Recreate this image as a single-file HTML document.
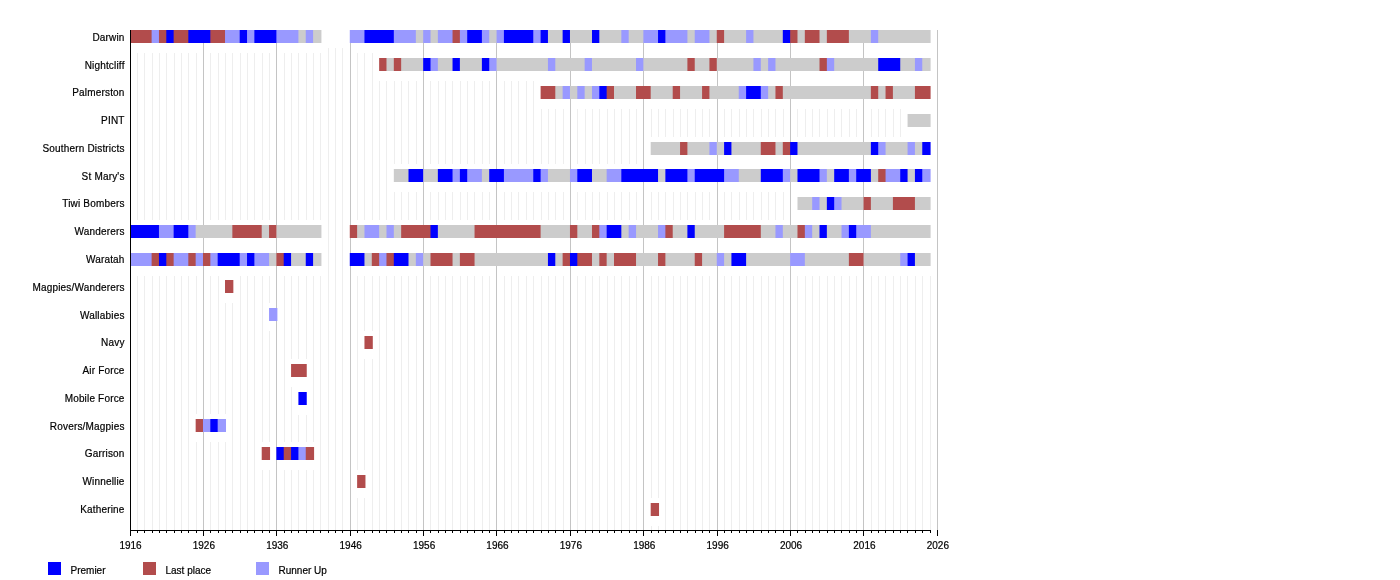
<!DOCTYPE html>
<html><head><meta charset="utf-8"><title>Timeline</title>
<style>
html,body{margin:0;padding:0;background:#fff;width:1400px;height:580px;overflow:hidden}
svg{display:block}
text{font-family:"Liberation Sans",sans-serif;font-size:10px;fill:#000;stroke:#000;stroke-width:0.2px;letter-spacing:0.18px}
text.n{letter-spacing:0}
.t{will-change:transform}
</style></head><body>
<svg width="1400" height="580" viewBox="0 0 1400 580">
<g shape-rendering="crispEdges">
<rect x="137" y="48" width="1" height="482" fill="#eeeeee"/>
<rect x="144" y="48" width="1" height="482" fill="#eeeeee"/>
<rect x="152" y="48" width="1" height="482" fill="#eeeeee"/>
<rect x="159" y="48" width="1" height="482" fill="#eeeeee"/>
<rect x="166" y="48" width="1" height="482" fill="#eeeeee"/>
<rect x="174" y="48" width="1" height="482" fill="#eeeeee"/>
<rect x="181" y="48" width="1" height="482" fill="#eeeeee"/>
<rect x="188" y="48" width="1" height="482" fill="#eeeeee"/>
<rect x="196" y="48" width="1" height="482" fill="#eeeeee"/>
<rect x="210" y="48" width="1" height="482" fill="#eeeeee"/>
<rect x="218" y="48" width="1" height="482" fill="#eeeeee"/>
<rect x="225" y="48" width="1" height="482" fill="#eeeeee"/>
<rect x="232" y="48" width="1" height="482" fill="#eeeeee"/>
<rect x="240" y="48" width="1" height="482" fill="#eeeeee"/>
<rect x="247" y="48" width="1" height="482" fill="#eeeeee"/>
<rect x="254" y="48" width="1" height="482" fill="#eeeeee"/>
<rect x="262" y="48" width="1" height="482" fill="#eeeeee"/>
<rect x="269" y="48" width="1" height="482" fill="#eeeeee"/>
<rect x="284" y="48" width="1" height="482" fill="#eeeeee"/>
<rect x="291" y="48" width="1" height="482" fill="#eeeeee"/>
<rect x="298" y="48" width="1" height="482" fill="#eeeeee"/>
<rect x="306" y="48" width="1" height="482" fill="#eeeeee"/>
<rect x="313" y="48" width="1" height="482" fill="#eeeeee"/>
<rect x="320" y="48" width="1" height="482" fill="#eeeeee"/>
<rect x="328" y="48" width="1" height="482" fill="#eeeeee"/>
<rect x="335" y="48" width="1" height="482" fill="#eeeeee"/>
<rect x="342" y="48" width="1" height="482" fill="#eeeeee"/>
<rect x="357" y="48" width="1" height="482" fill="#eeeeee"/>
<rect x="364" y="48" width="1" height="482" fill="#eeeeee"/>
<rect x="372" y="48" width="1" height="482" fill="#eeeeee"/>
<rect x="379" y="48" width="1" height="482" fill="#eeeeee"/>
<rect x="386" y="48" width="1" height="482" fill="#eeeeee"/>
<rect x="394" y="48" width="1" height="482" fill="#eeeeee"/>
<rect x="401" y="48" width="1" height="482" fill="#eeeeee"/>
<rect x="408" y="48" width="1" height="482" fill="#eeeeee"/>
<rect x="416" y="48" width="1" height="482" fill="#eeeeee"/>
<rect x="430" y="48" width="1" height="482" fill="#eeeeee"/>
<rect x="438" y="48" width="1" height="482" fill="#eeeeee"/>
<rect x="445" y="48" width="1" height="482" fill="#eeeeee"/>
<rect x="452" y="48" width="1" height="482" fill="#eeeeee"/>
<rect x="460" y="48" width="1" height="482" fill="#eeeeee"/>
<rect x="467" y="48" width="1" height="482" fill="#eeeeee"/>
<rect x="474" y="48" width="1" height="482" fill="#eeeeee"/>
<rect x="482" y="48" width="1" height="482" fill="#eeeeee"/>
<rect x="489" y="48" width="1" height="482" fill="#eeeeee"/>
<rect x="504" y="48" width="1" height="482" fill="#eeeeee"/>
<rect x="511" y="48" width="1" height="482" fill="#eeeeee"/>
<rect x="518" y="48" width="1" height="482" fill="#eeeeee"/>
<rect x="526" y="48" width="1" height="482" fill="#eeeeee"/>
<rect x="533" y="48" width="1" height="482" fill="#eeeeee"/>
<rect x="541" y="48" width="1" height="482" fill="#eeeeee"/>
<rect x="548" y="48" width="1" height="482" fill="#eeeeee"/>
<rect x="555" y="48" width="1" height="482" fill="#eeeeee"/>
<rect x="563" y="48" width="1" height="482" fill="#eeeeee"/>
<rect x="577" y="48" width="1" height="482" fill="#eeeeee"/>
<rect x="585" y="48" width="1" height="482" fill="#eeeeee"/>
<rect x="592" y="48" width="1" height="482" fill="#eeeeee"/>
<rect x="599" y="48" width="1" height="482" fill="#eeeeee"/>
<rect x="607" y="48" width="1" height="482" fill="#eeeeee"/>
<rect x="614" y="48" width="1" height="482" fill="#eeeeee"/>
<rect x="621" y="48" width="1" height="482" fill="#eeeeee"/>
<rect x="629" y="48" width="1" height="482" fill="#eeeeee"/>
<rect x="636" y="48" width="1" height="482" fill="#eeeeee"/>
<rect x="651" y="48" width="1" height="482" fill="#eeeeee"/>
<rect x="658" y="48" width="1" height="482" fill="#eeeeee"/>
<rect x="665" y="48" width="1" height="482" fill="#eeeeee"/>
<rect x="673" y="48" width="1" height="482" fill="#eeeeee"/>
<rect x="680" y="48" width="1" height="482" fill="#eeeeee"/>
<rect x="687" y="48" width="1" height="482" fill="#eeeeee"/>
<rect x="695" y="48" width="1" height="482" fill="#eeeeee"/>
<rect x="702" y="48" width="1" height="482" fill="#eeeeee"/>
<rect x="709" y="48" width="1" height="482" fill="#eeeeee"/>
<rect x="724" y="48" width="1" height="482" fill="#eeeeee"/>
<rect x="731" y="48" width="1" height="482" fill="#eeeeee"/>
<rect x="739" y="48" width="1" height="482" fill="#eeeeee"/>
<rect x="746" y="48" width="1" height="482" fill="#eeeeee"/>
<rect x="753" y="48" width="1" height="482" fill="#eeeeee"/>
<rect x="761" y="48" width="1" height="482" fill="#eeeeee"/>
<rect x="768" y="48" width="1" height="482" fill="#eeeeee"/>
<rect x="775" y="48" width="1" height="482" fill="#eeeeee"/>
<rect x="783" y="48" width="1" height="482" fill="#eeeeee"/>
<rect x="797" y="48" width="1" height="482" fill="#eeeeee"/>
<rect x="805" y="48" width="1" height="482" fill="#eeeeee"/>
<rect x="812" y="48" width="1" height="482" fill="#eeeeee"/>
<rect x="819" y="48" width="1" height="482" fill="#eeeeee"/>
<rect x="827" y="48" width="1" height="482" fill="#eeeeee"/>
<rect x="834" y="48" width="1" height="482" fill="#eeeeee"/>
<rect x="841" y="48" width="1" height="482" fill="#eeeeee"/>
<rect x="849" y="48" width="1" height="482" fill="#eeeeee"/>
<rect x="856" y="48" width="1" height="482" fill="#eeeeee"/>
<rect x="871" y="48" width="1" height="482" fill="#eeeeee"/>
<rect x="878" y="48" width="1" height="482" fill="#eeeeee"/>
<rect x="885" y="48" width="1" height="482" fill="#eeeeee"/>
<rect x="893" y="48" width="1" height="482" fill="#eeeeee"/>
<rect x="900" y="48" width="1" height="482" fill="#eeeeee"/>
<rect x="907" y="48" width="1" height="482" fill="#eeeeee"/>
<rect x="915" y="48" width="1" height="482" fill="#eeeeee"/>
<rect x="922" y="48" width="1" height="482" fill="#eeeeee"/>
<rect x="930" y="48" width="1" height="482" fill="#eeeeee"/>
<rect x="130" y="25" width="23" height="28" fill="#fff"/>
<rect x="151" y="25" width="9" height="28" fill="#fff"/>
<rect x="158" y="25" width="10" height="28" fill="#fff"/>
<rect x="166" y="25" width="9" height="28" fill="#fff"/>
<rect x="173" y="25" width="17" height="28" fill="#fff"/>
<rect x="188" y="25" width="24" height="28" fill="#fff"/>
<rect x="210" y="25" width="17" height="28" fill="#fff"/>
<rect x="225" y="25" width="16" height="28" fill="#fff"/>
<rect x="239" y="25" width="10" height="28" fill="#fff"/>
<rect x="247" y="25" width="9" height="28" fill="#fff"/>
<rect x="254" y="25" width="24" height="28" fill="#fff"/>
<rect x="276" y="25" width="24" height="28" fill="#fff"/>
<rect x="298" y="25" width="9" height="28" fill="#fff"/>
<rect x="305" y="25" width="10" height="28" fill="#fff"/>
<rect x="313" y="25" width="9" height="28" fill="#fff"/>
<rect x="349" y="25" width="17" height="28" fill="#fff"/>
<rect x="364" y="25" width="31" height="28" fill="#fff"/>
<rect x="393" y="25" width="24" height="28" fill="#fff"/>
<rect x="415" y="25" width="10" height="28" fill="#fff"/>
<rect x="423" y="25" width="9" height="28" fill="#fff"/>
<rect x="430" y="25" width="9" height="28" fill="#fff"/>
<rect x="437" y="25" width="17" height="28" fill="#fff"/>
<rect x="452" y="25" width="9" height="28" fill="#fff"/>
<rect x="459" y="25" width="10" height="28" fill="#fff"/>
<rect x="467" y="25" width="16" height="28" fill="#fff"/>
<rect x="481" y="25" width="10" height="28" fill="#fff"/>
<rect x="489" y="25" width="9" height="28" fill="#fff"/>
<rect x="496" y="25" width="9" height="28" fill="#fff"/>
<rect x="503" y="25" width="32" height="28" fill="#fff"/>
<rect x="533" y="25" width="9" height="28" fill="#fff"/>
<rect x="540" y="25" width="9" height="28" fill="#fff"/>
<rect x="547" y="25" width="17" height="28" fill="#fff"/>
<rect x="562" y="25" width="9" height="28" fill="#fff"/>
<rect x="569" y="25" width="24" height="28" fill="#fff"/>
<rect x="591" y="25" width="10" height="28" fill="#fff"/>
<rect x="599" y="25" width="24" height="28" fill="#fff"/>
<rect x="621" y="25" width="9" height="28" fill="#fff"/>
<rect x="628" y="25" width="17" height="28" fill="#fff"/>
<rect x="643" y="25" width="17" height="28" fill="#fff"/>
<rect x="658" y="25" width="9" height="28" fill="#fff"/>
<rect x="665" y="25" width="24" height="28" fill="#fff"/>
<rect x="687" y="25" width="9" height="28" fill="#fff"/>
<rect x="694" y="25" width="17" height="28" fill="#fff"/>
<rect x="709" y="25" width="9" height="28" fill="#fff"/>
<rect x="716" y="25" width="10" height="28" fill="#fff"/>
<rect x="724" y="25" width="24" height="28" fill="#fff"/>
<rect x="746" y="25" width="9" height="28" fill="#fff"/>
<rect x="753" y="25" width="31" height="28" fill="#fff"/>
<rect x="782" y="25" width="10" height="28" fill="#fff"/>
<rect x="790" y="25" width="9" height="28" fill="#fff"/>
<rect x="797" y="25" width="9" height="28" fill="#fff"/>
<rect x="804" y="25" width="17" height="28" fill="#fff"/>
<rect x="819" y="25" width="9" height="28" fill="#fff"/>
<rect x="826" y="25" width="24" height="28" fill="#fff"/>
<rect x="848" y="25" width="24" height="28" fill="#fff"/>
<rect x="870" y="25" width="10" height="28" fill="#fff"/>
<rect x="878" y="25" width="53" height="28" fill="#fff"/>
<rect x="379" y="53" width="9" height="28" fill="#fff"/>
<rect x="386" y="53" width="9" height="28" fill="#fff"/>
<rect x="393" y="53" width="10" height="28" fill="#fff"/>
<rect x="401" y="53" width="24" height="28" fill="#fff"/>
<rect x="423" y="53" width="9" height="28" fill="#fff"/>
<rect x="430" y="53" width="9" height="28" fill="#fff"/>
<rect x="437" y="53" width="17" height="28" fill="#fff"/>
<rect x="452" y="53" width="9" height="28" fill="#fff"/>
<rect x="459" y="53" width="24" height="28" fill="#fff"/>
<rect x="481" y="53" width="10" height="28" fill="#fff"/>
<rect x="489" y="53" width="9" height="28" fill="#fff"/>
<rect x="496" y="53" width="53" height="28" fill="#fff"/>
<rect x="547" y="53" width="10" height="28" fill="#fff"/>
<rect x="555" y="53" width="31" height="28" fill="#fff"/>
<rect x="584" y="53" width="9" height="28" fill="#fff"/>
<rect x="591" y="53" width="47" height="28" fill="#fff"/>
<rect x="636" y="53" width="9" height="28" fill="#fff"/>
<rect x="643" y="53" width="46" height="28" fill="#fff"/>
<rect x="687" y="53" width="9" height="28" fill="#fff"/>
<rect x="694" y="53" width="17" height="28" fill="#fff"/>
<rect x="709" y="53" width="9" height="28" fill="#fff"/>
<rect x="716" y="53" width="39" height="28" fill="#fff"/>
<rect x="753" y="53" width="9" height="28" fill="#fff"/>
<rect x="760" y="53" width="10" height="28" fill="#fff"/>
<rect x="768" y="53" width="9" height="28" fill="#fff"/>
<rect x="775" y="53" width="46" height="28" fill="#fff"/>
<rect x="819" y="53" width="9" height="28" fill="#fff"/>
<rect x="826" y="53" width="10" height="28" fill="#fff"/>
<rect x="834" y="53" width="46" height="28" fill="#fff"/>
<rect x="878" y="53" width="24" height="28" fill="#fff"/>
<rect x="900" y="53" width="16" height="28" fill="#fff"/>
<rect x="914" y="53" width="10" height="28" fill="#fff"/>
<rect x="922" y="53" width="9" height="28" fill="#fff"/>
<rect x="540" y="81" width="17" height="28" fill="#fff"/>
<rect x="555" y="81" width="9" height="28" fill="#fff"/>
<rect x="562" y="81" width="9" height="28" fill="#fff"/>
<rect x="569" y="81" width="10" height="28" fill="#fff"/>
<rect x="577" y="81" width="9" height="28" fill="#fff"/>
<rect x="584" y="81" width="9" height="28" fill="#fff"/>
<rect x="591" y="81" width="10" height="28" fill="#fff"/>
<rect x="599" y="81" width="9" height="28" fill="#fff"/>
<rect x="606" y="81" width="10" height="28" fill="#fff"/>
<rect x="614" y="81" width="24" height="28" fill="#fff"/>
<rect x="636" y="81" width="16" height="28" fill="#fff"/>
<rect x="650" y="81" width="24" height="28" fill="#fff"/>
<rect x="672" y="81" width="10" height="28" fill="#fff"/>
<rect x="680" y="81" width="24" height="28" fill="#fff"/>
<rect x="702" y="81" width="9" height="28" fill="#fff"/>
<rect x="709" y="81" width="31" height="28" fill="#fff"/>
<rect x="738" y="81" width="10" height="28" fill="#fff"/>
<rect x="746" y="81" width="16" height="28" fill="#fff"/>
<rect x="760" y="81" width="10" height="28" fill="#fff"/>
<rect x="768" y="81" width="9" height="28" fill="#fff"/>
<rect x="775" y="81" width="9" height="28" fill="#fff"/>
<rect x="782" y="81" width="90" height="28" fill="#fff"/>
<rect x="870" y="81" width="10" height="28" fill="#fff"/>
<rect x="878" y="81" width="9" height="28" fill="#fff"/>
<rect x="885" y="81" width="9" height="28" fill="#fff"/>
<rect x="892" y="81" width="24" height="28" fill="#fff"/>
<rect x="914" y="81" width="17" height="28" fill="#fff"/>
<rect x="907" y="109" width="24" height="28" fill="#fff"/>
<rect x="650" y="137" width="32" height="28" fill="#fff"/>
<rect x="680" y="137" width="9" height="28" fill="#fff"/>
<rect x="687" y="137" width="24" height="28" fill="#fff"/>
<rect x="709" y="137" width="9" height="28" fill="#fff"/>
<rect x="716" y="137" width="10" height="28" fill="#fff"/>
<rect x="724" y="137" width="9" height="28" fill="#fff"/>
<rect x="731" y="137" width="31" height="28" fill="#fff"/>
<rect x="760" y="137" width="17" height="28" fill="#fff"/>
<rect x="775" y="137" width="9" height="28" fill="#fff"/>
<rect x="782" y="137" width="10" height="28" fill="#fff"/>
<rect x="790" y="137" width="9" height="28" fill="#fff"/>
<rect x="797" y="137" width="75" height="28" fill="#fff"/>
<rect x="870" y="137" width="10" height="28" fill="#fff"/>
<rect x="878" y="137" width="9" height="28" fill="#fff"/>
<rect x="885" y="137" width="24" height="28" fill="#fff"/>
<rect x="907" y="137" width="9" height="28" fill="#fff"/>
<rect x="914" y="137" width="10" height="28" fill="#fff"/>
<rect x="922" y="137" width="9" height="28" fill="#fff"/>
<rect x="393" y="164" width="17" height="28" fill="#fff"/>
<rect x="408" y="164" width="17" height="28" fill="#fff"/>
<rect x="423" y="164" width="16" height="28" fill="#fff"/>
<rect x="437" y="164" width="17" height="28" fill="#fff"/>
<rect x="452" y="164" width="9" height="28" fill="#fff"/>
<rect x="459" y="164" width="10" height="28" fill="#fff"/>
<rect x="467" y="164" width="16" height="28" fill="#fff"/>
<rect x="481" y="164" width="10" height="28" fill="#fff"/>
<rect x="489" y="164" width="16" height="28" fill="#fff"/>
<rect x="503" y="164" width="32" height="28" fill="#fff"/>
<rect x="533" y="164" width="9" height="28" fill="#fff"/>
<rect x="540" y="164" width="9" height="28" fill="#fff"/>
<rect x="547" y="164" width="24" height="28" fill="#fff"/>
<rect x="569" y="164" width="10" height="28" fill="#fff"/>
<rect x="577" y="164" width="16" height="28" fill="#fff"/>
<rect x="591" y="164" width="17" height="28" fill="#fff"/>
<rect x="606" y="164" width="17" height="28" fill="#fff"/>
<rect x="621" y="164" width="39" height="28" fill="#fff"/>
<rect x="658" y="164" width="9" height="28" fill="#fff"/>
<rect x="665" y="164" width="24" height="28" fill="#fff"/>
<rect x="687" y="164" width="9" height="28" fill="#fff"/>
<rect x="694" y="164" width="32" height="28" fill="#fff"/>
<rect x="724" y="164" width="16" height="28" fill="#fff"/>
<rect x="738" y="164" width="24" height="28" fill="#fff"/>
<rect x="760" y="164" width="24" height="28" fill="#fff"/>
<rect x="782" y="164" width="10" height="28" fill="#fff"/>
<rect x="790" y="164" width="9" height="28" fill="#fff"/>
<rect x="797" y="164" width="24" height="28" fill="#fff"/>
<rect x="819" y="164" width="9" height="28" fill="#fff"/>
<rect x="826" y="164" width="10" height="28" fill="#fff"/>
<rect x="834" y="164" width="16" height="28" fill="#fff"/>
<rect x="848" y="164" width="10" height="28" fill="#fff"/>
<rect x="856" y="164" width="16" height="28" fill="#fff"/>
<rect x="870" y="164" width="10" height="28" fill="#fff"/>
<rect x="878" y="164" width="9" height="28" fill="#fff"/>
<rect x="885" y="164" width="17" height="28" fill="#fff"/>
<rect x="900" y="164" width="9" height="28" fill="#fff"/>
<rect x="907" y="164" width="9" height="28" fill="#fff"/>
<rect x="914" y="164" width="10" height="28" fill="#fff"/>
<rect x="922" y="164" width="9" height="28" fill="#fff"/>
<rect x="797" y="192" width="17" height="28" fill="#fff"/>
<rect x="812" y="192" width="9" height="28" fill="#fff"/>
<rect x="819" y="192" width="9" height="28" fill="#fff"/>
<rect x="826" y="192" width="10" height="28" fill="#fff"/>
<rect x="834" y="192" width="9" height="28" fill="#fff"/>
<rect x="841" y="192" width="24" height="28" fill="#fff"/>
<rect x="863" y="192" width="9" height="28" fill="#fff"/>
<rect x="870" y="192" width="24" height="28" fill="#fff"/>
<rect x="892" y="192" width="24" height="28" fill="#fff"/>
<rect x="914" y="192" width="17" height="28" fill="#fff"/>
<rect x="130" y="220" width="30" height="28" fill="#fff"/>
<rect x="158" y="220" width="17" height="28" fill="#fff"/>
<rect x="173" y="220" width="17" height="28" fill="#fff"/>
<rect x="188" y="220" width="9" height="28" fill="#fff"/>
<rect x="195" y="220" width="39" height="28" fill="#fff"/>
<rect x="232" y="220" width="31" height="28" fill="#fff"/>
<rect x="261" y="220" width="10" height="28" fill="#fff"/>
<rect x="269" y="220" width="9" height="28" fill="#fff"/>
<rect x="276" y="220" width="46" height="28" fill="#fff"/>
<rect x="349" y="220" width="10" height="28" fill="#fff"/>
<rect x="357" y="220" width="9" height="28" fill="#fff"/>
<rect x="364" y="220" width="17" height="28" fill="#fff"/>
<rect x="379" y="220" width="9" height="28" fill="#fff"/>
<rect x="386" y="220" width="9" height="28" fill="#fff"/>
<rect x="393" y="220" width="10" height="28" fill="#fff"/>
<rect x="401" y="220" width="31" height="28" fill="#fff"/>
<rect x="430" y="220" width="9" height="28" fill="#fff"/>
<rect x="437" y="220" width="39" height="28" fill="#fff"/>
<rect x="474" y="220" width="68" height="28" fill="#fff"/>
<rect x="540" y="220" width="31" height="28" fill="#fff"/>
<rect x="569" y="220" width="10" height="28" fill="#fff"/>
<rect x="577" y="220" width="16" height="28" fill="#fff"/>
<rect x="591" y="220" width="10" height="28" fill="#fff"/>
<rect x="599" y="220" width="9" height="28" fill="#fff"/>
<rect x="606" y="220" width="17" height="28" fill="#fff"/>
<rect x="621" y="220" width="9" height="28" fill="#fff"/>
<rect x="628" y="220" width="10" height="28" fill="#fff"/>
<rect x="636" y="220" width="24" height="28" fill="#fff"/>
<rect x="658" y="220" width="9" height="28" fill="#fff"/>
<rect x="665" y="220" width="9" height="28" fill="#fff"/>
<rect x="672" y="220" width="17" height="28" fill="#fff"/>
<rect x="687" y="220" width="9" height="28" fill="#fff"/>
<rect x="694" y="220" width="32" height="28" fill="#fff"/>
<rect x="724" y="220" width="38" height="28" fill="#fff"/>
<rect x="760" y="220" width="17" height="28" fill="#fff"/>
<rect x="775" y="220" width="9" height="28" fill="#fff"/>
<rect x="782" y="220" width="17" height="28" fill="#fff"/>
<rect x="797" y="220" width="9" height="28" fill="#fff"/>
<rect x="804" y="220" width="10" height="28" fill="#fff"/>
<rect x="812" y="220" width="9" height="28" fill="#fff"/>
<rect x="819" y="220" width="9" height="28" fill="#fff"/>
<rect x="826" y="220" width="17" height="28" fill="#fff"/>
<rect x="841" y="220" width="9" height="28" fill="#fff"/>
<rect x="848" y="220" width="10" height="28" fill="#fff"/>
<rect x="856" y="220" width="16" height="28" fill="#fff"/>
<rect x="870" y="220" width="61" height="28" fill="#fff"/>
<rect x="130" y="248" width="23" height="28" fill="#fff"/>
<rect x="151" y="248" width="9" height="28" fill="#fff"/>
<rect x="158" y="248" width="10" height="28" fill="#fff"/>
<rect x="166" y="248" width="9" height="28" fill="#fff"/>
<rect x="173" y="248" width="17" height="28" fill="#fff"/>
<rect x="188" y="248" width="9" height="28" fill="#fff"/>
<rect x="195" y="248" width="9" height="28" fill="#fff"/>
<rect x="202" y="248" width="10" height="28" fill="#fff"/>
<rect x="210" y="248" width="9" height="28" fill="#fff"/>
<rect x="217" y="248" width="24" height="28" fill="#fff"/>
<rect x="239" y="248" width="10" height="28" fill="#fff"/>
<rect x="247" y="248" width="9" height="28" fill="#fff"/>
<rect x="254" y="248" width="17" height="28" fill="#fff"/>
<rect x="269" y="248" width="9" height="28" fill="#fff"/>
<rect x="276" y="248" width="9" height="28" fill="#fff"/>
<rect x="283" y="248" width="10" height="28" fill="#fff"/>
<rect x="291" y="248" width="16" height="28" fill="#fff"/>
<rect x="305" y="248" width="10" height="28" fill="#fff"/>
<rect x="313" y="248" width="9" height="28" fill="#fff"/>
<rect x="349" y="248" width="17" height="28" fill="#fff"/>
<rect x="364" y="248" width="9" height="28" fill="#fff"/>
<rect x="371" y="248" width="10" height="28" fill="#fff"/>
<rect x="379" y="248" width="9" height="28" fill="#fff"/>
<rect x="386" y="248" width="9" height="28" fill="#fff"/>
<rect x="393" y="248" width="17" height="28" fill="#fff"/>
<rect x="408" y="248" width="9" height="28" fill="#fff"/>
<rect x="415" y="248" width="10" height="28" fill="#fff"/>
<rect x="423" y="248" width="9" height="28" fill="#fff"/>
<rect x="430" y="248" width="24" height="28" fill="#fff"/>
<rect x="452" y="248" width="9" height="28" fill="#fff"/>
<rect x="459" y="248" width="17" height="28" fill="#fff"/>
<rect x="474" y="248" width="75" height="28" fill="#fff"/>
<rect x="547" y="248" width="10" height="28" fill="#fff"/>
<rect x="555" y="248" width="9" height="28" fill="#fff"/>
<rect x="562" y="248" width="9" height="28" fill="#fff"/>
<rect x="569" y="248" width="10" height="28" fill="#fff"/>
<rect x="577" y="248" width="16" height="28" fill="#fff"/>
<rect x="591" y="248" width="10" height="28" fill="#fff"/>
<rect x="599" y="248" width="9" height="28" fill="#fff"/>
<rect x="606" y="248" width="10" height="28" fill="#fff"/>
<rect x="614" y="248" width="24" height="28" fill="#fff"/>
<rect x="636" y="248" width="24" height="28" fill="#fff"/>
<rect x="658" y="248" width="9" height="28" fill="#fff"/>
<rect x="665" y="248" width="31" height="28" fill="#fff"/>
<rect x="694" y="248" width="10" height="28" fill="#fff"/>
<rect x="702" y="248" width="16" height="28" fill="#fff"/>
<rect x="716" y="248" width="10" height="28" fill="#fff"/>
<rect x="724" y="248" width="9" height="28" fill="#fff"/>
<rect x="731" y="248" width="17" height="28" fill="#fff"/>
<rect x="746" y="248" width="46" height="28" fill="#fff"/>
<rect x="790" y="248" width="16" height="28" fill="#fff"/>
<rect x="804" y="248" width="46" height="28" fill="#fff"/>
<rect x="848" y="248" width="17" height="28" fill="#fff"/>
<rect x="863" y="248" width="39" height="28" fill="#fff"/>
<rect x="900" y="248" width="9" height="28" fill="#fff"/>
<rect x="907" y="248" width="9" height="28" fill="#fff"/>
<rect x="914" y="248" width="17" height="28" fill="#fff"/>
<rect x="225" y="275" width="9" height="28" fill="#fff"/>
<rect x="269" y="303" width="9" height="28" fill="#fff"/>
<rect x="364" y="331" width="9" height="28" fill="#fff"/>
<rect x="291" y="359" width="16" height="28" fill="#fff"/>
<rect x="298" y="387" width="9" height="28" fill="#fff"/>
<rect x="195" y="414" width="9" height="28" fill="#fff"/>
<rect x="202" y="414" width="10" height="28" fill="#fff"/>
<rect x="210" y="414" width="9" height="28" fill="#fff"/>
<rect x="217" y="414" width="10" height="28" fill="#fff"/>
<rect x="261" y="442" width="10" height="28" fill="#fff"/>
<rect x="276" y="442" width="9" height="28" fill="#fff"/>
<rect x="283" y="442" width="10" height="28" fill="#fff"/>
<rect x="291" y="442" width="9" height="28" fill="#fff"/>
<rect x="298" y="442" width="9" height="28" fill="#fff"/>
<rect x="305" y="442" width="10" height="28" fill="#fff"/>
<rect x="357" y="470" width="9" height="28" fill="#fff"/>
<rect x="650" y="498" width="10" height="28" fill="#fff"/>
<rect x="203" y="30" width="1" height="500" fill="#c4c4c4"/>
<rect x="276" y="30" width="1" height="500" fill="#c4c4c4"/>
<rect x="350" y="30" width="1" height="500" fill="#c4c4c4"/>
<rect x="423" y="30" width="1" height="500" fill="#c4c4c4"/>
<rect x="496" y="30" width="1" height="500" fill="#c4c4c4"/>
<rect x="570" y="30" width="1" height="500" fill="#c4c4c4"/>
<rect x="643" y="30" width="1" height="500" fill="#c4c4c4"/>
<rect x="717" y="30" width="1" height="500" fill="#c4c4c4"/>
<rect x="790" y="30" width="1" height="500" fill="#c4c4c4"/>
<rect x="863" y="30" width="1" height="500" fill="#c4c4c4"/>
<rect x="937" y="30" width="1" height="500" fill="#c4c4c4"/>
</g>
<g>
<rect x="130.00" y="30" width="22.62" height="13" fill="#b24c4c"/>
<rect x="151.62" y="30" width="8.34" height="13" fill="#9999ff"/>
<rect x="158.96" y="30" width="8.34" height="13" fill="#b24c4c"/>
<rect x="166.30" y="30" width="8.34" height="13" fill="#0000ff"/>
<rect x="173.64" y="30" width="15.68" height="13" fill="#b24c4c"/>
<rect x="188.32" y="30" width="23.02" height="13" fill="#0000ff"/>
<rect x="210.33" y="30" width="15.68" height="13" fill="#b24c4c"/>
<rect x="225.01" y="30" width="15.68" height="13" fill="#9999ff"/>
<rect x="239.69" y="30" width="8.34" height="13" fill="#0000ff"/>
<rect x="247.03" y="30" width="8.34" height="13" fill="#9999ff"/>
<rect x="254.37" y="30" width="23.02" height="13" fill="#0000ff"/>
<rect x="276.39" y="30" width="23.02" height="13" fill="#9999ff"/>
<rect x="298.41" y="30" width="8.34" height="13" fill="#cccccc"/>
<rect x="305.75" y="30" width="8.34" height="13" fill="#9999ff"/>
<rect x="313.09" y="30" width="8.34" height="13" fill="#cccccc"/>
<rect x="349.78" y="30" width="15.68" height="13" fill="#9999ff"/>
<rect x="364.46" y="30" width="30.36" height="13" fill="#0000ff"/>
<rect x="393.82" y="30" width="23.02" height="13" fill="#9999ff"/>
<rect x="415.84" y="30" width="8.34" height="13" fill="#cccccc"/>
<rect x="423.18" y="30" width="8.34" height="13" fill="#9999ff"/>
<rect x="430.52" y="30" width="8.34" height="13" fill="#cccccc"/>
<rect x="437.86" y="30" width="15.68" height="13" fill="#9999ff"/>
<rect x="452.54" y="30" width="8.34" height="13" fill="#b24c4c"/>
<rect x="459.88" y="30" width="8.34" height="13" fill="#9999ff"/>
<rect x="467.21" y="30" width="15.68" height="13" fill="#0000ff"/>
<rect x="481.89" y="30" width="8.34" height="13" fill="#9999ff"/>
<rect x="489.23" y="30" width="8.34" height="13" fill="#cccccc"/>
<rect x="496.57" y="30" width="8.34" height="13" fill="#9999ff"/>
<rect x="503.91" y="30" width="30.36" height="13" fill="#0000ff"/>
<rect x="533.27" y="30" width="8.34" height="13" fill="#9999ff"/>
<rect x="540.61" y="30" width="8.34" height="13" fill="#0000ff"/>
<rect x="547.95" y="30" width="15.68" height="13" fill="#cccccc"/>
<rect x="562.63" y="30" width="8.34" height="13" fill="#0000ff"/>
<rect x="569.97" y="30" width="23.02" height="13" fill="#cccccc"/>
<rect x="591.99" y="30" width="8.34" height="13" fill="#0000ff"/>
<rect x="599.32" y="30" width="23.02" height="13" fill="#cccccc"/>
<rect x="621.34" y="30" width="8.34" height="13" fill="#9999ff"/>
<rect x="628.68" y="30" width="15.68" height="13" fill="#cccccc"/>
<rect x="643.36" y="30" width="15.68" height="13" fill="#9999ff"/>
<rect x="658.04" y="30" width="8.34" height="13" fill="#0000ff"/>
<rect x="665.38" y="30" width="23.02" height="13" fill="#9999ff"/>
<rect x="687.40" y="30" width="8.34" height="13" fill="#cccccc"/>
<rect x="694.74" y="30" width="15.68" height="13" fill="#9999ff"/>
<rect x="709.42" y="30" width="8.34" height="13" fill="#cccccc"/>
<rect x="716.76" y="30" width="8.34" height="13" fill="#b24c4c"/>
<rect x="724.10" y="30" width="23.02" height="13" fill="#cccccc"/>
<rect x="746.11" y="30" width="8.34" height="13" fill="#9999ff"/>
<rect x="753.45" y="30" width="30.36" height="13" fill="#cccccc"/>
<rect x="782.81" y="30" width="8.34" height="13" fill="#0000ff"/>
<rect x="790.15" y="30" width="8.34" height="13" fill="#b24c4c"/>
<rect x="797.49" y="30" width="8.34" height="13" fill="#cccccc"/>
<rect x="804.83" y="30" width="15.68" height="13" fill="#b24c4c"/>
<rect x="819.51" y="30" width="8.34" height="13" fill="#cccccc"/>
<rect x="826.85" y="30" width="23.02" height="13" fill="#b24c4c"/>
<rect x="848.87" y="30" width="23.02" height="13" fill="#cccccc"/>
<rect x="870.88" y="30" width="8.34" height="13" fill="#9999ff"/>
<rect x="878.22" y="30" width="52.38" height="13" fill="#cccccc"/>
<rect x="379.14" y="58" width="8.34" height="13" fill="#b24c4c"/>
<rect x="386.48" y="58" width="8.34" height="13" fill="#cccccc"/>
<rect x="393.82" y="58" width="8.34" height="13" fill="#b24c4c"/>
<rect x="401.16" y="58" width="23.02" height="13" fill="#cccccc"/>
<rect x="423.18" y="58" width="8.34" height="13" fill="#0000ff"/>
<rect x="430.52" y="58" width="8.34" height="13" fill="#9999ff"/>
<rect x="437.86" y="58" width="15.68" height="13" fill="#cccccc"/>
<rect x="452.54" y="58" width="8.34" height="13" fill="#0000ff"/>
<rect x="459.88" y="58" width="23.02" height="13" fill="#cccccc"/>
<rect x="481.89" y="58" width="8.34" height="13" fill="#0000ff"/>
<rect x="489.23" y="58" width="8.34" height="13" fill="#9999ff"/>
<rect x="496.57" y="58" width="52.38" height="13" fill="#cccccc"/>
<rect x="547.95" y="58" width="8.34" height="13" fill="#9999ff"/>
<rect x="555.29" y="58" width="30.36" height="13" fill="#cccccc"/>
<rect x="584.65" y="58" width="8.34" height="13" fill="#9999ff"/>
<rect x="591.99" y="58" width="45.04" height="13" fill="#cccccc"/>
<rect x="636.02" y="58" width="8.34" height="13" fill="#9999ff"/>
<rect x="643.36" y="58" width="45.04" height="13" fill="#cccccc"/>
<rect x="687.40" y="58" width="8.34" height="13" fill="#b24c4c"/>
<rect x="694.74" y="58" width="15.68" height="13" fill="#cccccc"/>
<rect x="709.42" y="58" width="8.34" height="13" fill="#b24c4c"/>
<rect x="716.76" y="58" width="37.70" height="13" fill="#cccccc"/>
<rect x="753.45" y="58" width="8.34" height="13" fill="#9999ff"/>
<rect x="760.79" y="58" width="8.34" height="13" fill="#cccccc"/>
<rect x="768.13" y="58" width="8.34" height="13" fill="#9999ff"/>
<rect x="775.47" y="58" width="45.04" height="13" fill="#cccccc"/>
<rect x="819.51" y="58" width="8.34" height="13" fill="#b24c4c"/>
<rect x="826.85" y="58" width="8.34" height="13" fill="#9999ff"/>
<rect x="834.19" y="58" width="45.04" height="13" fill="#cccccc"/>
<rect x="878.22" y="58" width="23.02" height="13" fill="#0000ff"/>
<rect x="900.24" y="58" width="15.68" height="13" fill="#cccccc"/>
<rect x="914.92" y="58" width="8.34" height="13" fill="#9999ff"/>
<rect x="922.26" y="58" width="8.34" height="13" fill="#cccccc"/>
<rect x="540.61" y="86" width="15.68" height="13" fill="#b24c4c"/>
<rect x="555.29" y="86" width="8.34" height="13" fill="#cccccc"/>
<rect x="562.63" y="86" width="8.34" height="13" fill="#9999ff"/>
<rect x="569.97" y="86" width="8.34" height="13" fill="#cccccc"/>
<rect x="577.31" y="86" width="8.34" height="13" fill="#9999ff"/>
<rect x="584.65" y="86" width="8.34" height="13" fill="#cccccc"/>
<rect x="591.99" y="86" width="8.34" height="13" fill="#9999ff"/>
<rect x="599.32" y="86" width="8.34" height="13" fill="#0000ff"/>
<rect x="606.66" y="86" width="8.34" height="13" fill="#b24c4c"/>
<rect x="614.00" y="86" width="23.02" height="13" fill="#cccccc"/>
<rect x="636.02" y="86" width="15.68" height="13" fill="#b24c4c"/>
<rect x="650.70" y="86" width="23.02" height="13" fill="#cccccc"/>
<rect x="672.72" y="86" width="8.34" height="13" fill="#b24c4c"/>
<rect x="680.06" y="86" width="23.02" height="13" fill="#cccccc"/>
<rect x="702.08" y="86" width="8.34" height="13" fill="#b24c4c"/>
<rect x="709.42" y="86" width="30.36" height="13" fill="#cccccc"/>
<rect x="738.77" y="86" width="8.34" height="13" fill="#9999ff"/>
<rect x="746.11" y="86" width="15.68" height="13" fill="#0000ff"/>
<rect x="760.79" y="86" width="8.34" height="13" fill="#9999ff"/>
<rect x="768.13" y="86" width="8.34" height="13" fill="#cccccc"/>
<rect x="775.47" y="86" width="8.34" height="13" fill="#b24c4c"/>
<rect x="782.81" y="86" width="89.07" height="13" fill="#cccccc"/>
<rect x="870.88" y="86" width="8.34" height="13" fill="#b24c4c"/>
<rect x="878.22" y="86" width="8.34" height="13" fill="#cccccc"/>
<rect x="885.56" y="86" width="8.34" height="13" fill="#b24c4c"/>
<rect x="892.90" y="86" width="23.02" height="13" fill="#cccccc"/>
<rect x="914.92" y="86" width="15.68" height="13" fill="#b24c4c"/>
<rect x="907.58" y="114" width="23.02" height="13" fill="#cccccc"/>
<rect x="650.70" y="142" width="30.36" height="13" fill="#cccccc"/>
<rect x="680.06" y="142" width="8.34" height="13" fill="#b24c4c"/>
<rect x="687.40" y="142" width="23.02" height="13" fill="#cccccc"/>
<rect x="709.42" y="142" width="8.34" height="13" fill="#9999ff"/>
<rect x="716.76" y="142" width="8.34" height="13" fill="#cccccc"/>
<rect x="724.10" y="142" width="8.34" height="13" fill="#0000ff"/>
<rect x="731.43" y="142" width="30.36" height="13" fill="#cccccc"/>
<rect x="760.79" y="142" width="15.68" height="13" fill="#b24c4c"/>
<rect x="775.47" y="142" width="8.34" height="13" fill="#cccccc"/>
<rect x="782.81" y="142" width="8.34" height="13" fill="#b24c4c"/>
<rect x="790.15" y="142" width="8.34" height="13" fill="#0000ff"/>
<rect x="797.49" y="142" width="74.39" height="13" fill="#cccccc"/>
<rect x="870.88" y="142" width="8.34" height="13" fill="#0000ff"/>
<rect x="878.22" y="142" width="8.34" height="13" fill="#9999ff"/>
<rect x="885.56" y="142" width="23.02" height="13" fill="#cccccc"/>
<rect x="907.58" y="142" width="8.34" height="13" fill="#9999ff"/>
<rect x="914.92" y="142" width="8.34" height="13" fill="#cccccc"/>
<rect x="922.26" y="142" width="8.34" height="13" fill="#0000ff"/>
<rect x="393.82" y="169" width="15.68" height="13" fill="#cccccc"/>
<rect x="408.50" y="169" width="15.68" height="13" fill="#0000ff"/>
<rect x="423.18" y="169" width="15.68" height="13" fill="#cccccc"/>
<rect x="437.86" y="169" width="15.68" height="13" fill="#0000ff"/>
<rect x="452.54" y="169" width="8.34" height="13" fill="#9999ff"/>
<rect x="459.88" y="169" width="8.34" height="13" fill="#0000ff"/>
<rect x="467.21" y="169" width="15.68" height="13" fill="#9999ff"/>
<rect x="481.89" y="169" width="8.34" height="13" fill="#cccccc"/>
<rect x="489.23" y="169" width="15.68" height="13" fill="#0000ff"/>
<rect x="503.91" y="169" width="30.36" height="13" fill="#9999ff"/>
<rect x="533.27" y="169" width="8.34" height="13" fill="#0000ff"/>
<rect x="540.61" y="169" width="8.34" height="13" fill="#9999ff"/>
<rect x="547.95" y="169" width="23.02" height="13" fill="#cccccc"/>
<rect x="569.97" y="169" width="8.34" height="13" fill="#9999ff"/>
<rect x="577.31" y="169" width="15.68" height="13" fill="#0000ff"/>
<rect x="591.99" y="169" width="15.68" height="13" fill="#cccccc"/>
<rect x="606.66" y="169" width="15.68" height="13" fill="#9999ff"/>
<rect x="621.34" y="169" width="37.70" height="13" fill="#0000ff"/>
<rect x="658.04" y="169" width="8.34" height="13" fill="#cccccc"/>
<rect x="665.38" y="169" width="23.02" height="13" fill="#0000ff"/>
<rect x="687.40" y="169" width="8.34" height="13" fill="#9999ff"/>
<rect x="694.74" y="169" width="30.36" height="13" fill="#0000ff"/>
<rect x="724.10" y="169" width="15.68" height="13" fill="#9999ff"/>
<rect x="738.77" y="169" width="23.02" height="13" fill="#cccccc"/>
<rect x="760.79" y="169" width="23.02" height="13" fill="#0000ff"/>
<rect x="782.81" y="169" width="8.34" height="13" fill="#9999ff"/>
<rect x="790.15" y="169" width="8.34" height="13" fill="#cccccc"/>
<rect x="797.49" y="169" width="23.02" height="13" fill="#0000ff"/>
<rect x="819.51" y="169" width="8.34" height="13" fill="#9999ff"/>
<rect x="826.85" y="169" width="8.34" height="13" fill="#cccccc"/>
<rect x="834.19" y="169" width="15.68" height="13" fill="#0000ff"/>
<rect x="848.87" y="169" width="8.34" height="13" fill="#9999ff"/>
<rect x="856.21" y="169" width="15.68" height="13" fill="#0000ff"/>
<rect x="870.88" y="169" width="8.34" height="13" fill="#cccccc"/>
<rect x="878.22" y="169" width="8.34" height="13" fill="#b24c4c"/>
<rect x="885.56" y="169" width="15.68" height="13" fill="#9999ff"/>
<rect x="900.24" y="169" width="8.34" height="13" fill="#0000ff"/>
<rect x="907.58" y="169" width="8.34" height="13" fill="#cccccc"/>
<rect x="914.92" y="169" width="8.34" height="13" fill="#0000ff"/>
<rect x="922.26" y="169" width="8.34" height="13" fill="#9999ff"/>
<rect x="797.49" y="197" width="15.68" height="13" fill="#cccccc"/>
<rect x="812.17" y="197" width="8.34" height="13" fill="#9999ff"/>
<rect x="819.51" y="197" width="8.34" height="13" fill="#cccccc"/>
<rect x="826.85" y="197" width="8.34" height="13" fill="#0000ff"/>
<rect x="834.19" y="197" width="8.34" height="13" fill="#9999ff"/>
<rect x="841.53" y="197" width="23.02" height="13" fill="#cccccc"/>
<rect x="863.54" y="197" width="8.34" height="13" fill="#b24c4c"/>
<rect x="870.88" y="197" width="23.02" height="13" fill="#cccccc"/>
<rect x="892.90" y="197" width="23.02" height="13" fill="#b24c4c"/>
<rect x="914.92" y="197" width="15.68" height="13" fill="#cccccc"/>
<rect x="130.00" y="225" width="29.96" height="13" fill="#0000ff"/>
<rect x="158.96" y="225" width="15.68" height="13" fill="#9999ff"/>
<rect x="173.64" y="225" width="15.68" height="13" fill="#0000ff"/>
<rect x="188.32" y="225" width="8.34" height="13" fill="#9999ff"/>
<rect x="195.66" y="225" width="37.70" height="13" fill="#cccccc"/>
<rect x="232.35" y="225" width="30.36" height="13" fill="#b24c4c"/>
<rect x="261.71" y="225" width="8.34" height="13" fill="#cccccc"/>
<rect x="269.05" y="225" width="8.34" height="13" fill="#b24c4c"/>
<rect x="276.39" y="225" width="45.04" height="13" fill="#cccccc"/>
<rect x="349.78" y="225" width="8.34" height="13" fill="#b24c4c"/>
<rect x="357.12" y="225" width="8.34" height="13" fill="#cccccc"/>
<rect x="364.46" y="225" width="15.68" height="13" fill="#9999ff"/>
<rect x="379.14" y="225" width="8.34" height="13" fill="#cccccc"/>
<rect x="386.48" y="225" width="8.34" height="13" fill="#9999ff"/>
<rect x="393.82" y="225" width="8.34" height="13" fill="#cccccc"/>
<rect x="401.16" y="225" width="30.36" height="13" fill="#b24c4c"/>
<rect x="430.52" y="225" width="8.34" height="13" fill="#0000ff"/>
<rect x="437.86" y="225" width="37.70" height="13" fill="#cccccc"/>
<rect x="474.55" y="225" width="67.06" height="13" fill="#b24c4c"/>
<rect x="540.61" y="225" width="30.36" height="13" fill="#cccccc"/>
<rect x="569.97" y="225" width="8.34" height="13" fill="#b24c4c"/>
<rect x="577.31" y="225" width="15.68" height="13" fill="#cccccc"/>
<rect x="591.99" y="225" width="8.34" height="13" fill="#b24c4c"/>
<rect x="599.32" y="225" width="8.34" height="13" fill="#9999ff"/>
<rect x="606.66" y="225" width="15.68" height="13" fill="#0000ff"/>
<rect x="621.34" y="225" width="8.34" height="13" fill="#cccccc"/>
<rect x="628.68" y="225" width="8.34" height="13" fill="#9999ff"/>
<rect x="636.02" y="225" width="23.02" height="13" fill="#cccccc"/>
<rect x="658.04" y="225" width="8.34" height="13" fill="#9999ff"/>
<rect x="665.38" y="225" width="8.34" height="13" fill="#b24c4c"/>
<rect x="672.72" y="225" width="15.68" height="13" fill="#cccccc"/>
<rect x="687.40" y="225" width="8.34" height="13" fill="#0000ff"/>
<rect x="694.74" y="225" width="30.36" height="13" fill="#cccccc"/>
<rect x="724.10" y="225" width="37.70" height="13" fill="#b24c4c"/>
<rect x="760.79" y="225" width="15.68" height="13" fill="#cccccc"/>
<rect x="775.47" y="225" width="8.34" height="13" fill="#9999ff"/>
<rect x="782.81" y="225" width="15.68" height="13" fill="#cccccc"/>
<rect x="797.49" y="225" width="8.34" height="13" fill="#b24c4c"/>
<rect x="804.83" y="225" width="8.34" height="13" fill="#9999ff"/>
<rect x="812.17" y="225" width="8.34" height="13" fill="#cccccc"/>
<rect x="819.51" y="225" width="8.34" height="13" fill="#0000ff"/>
<rect x="826.85" y="225" width="15.68" height="13" fill="#cccccc"/>
<rect x="841.53" y="225" width="8.34" height="13" fill="#9999ff"/>
<rect x="848.87" y="225" width="8.34" height="13" fill="#0000ff"/>
<rect x="856.21" y="225" width="15.68" height="13" fill="#9999ff"/>
<rect x="870.88" y="225" width="59.72" height="13" fill="#cccccc"/>
<rect x="130.00" y="253" width="22.62" height="13" fill="#9999ff"/>
<rect x="151.62" y="253" width="8.34" height="13" fill="#b24c4c"/>
<rect x="158.96" y="253" width="8.34" height="13" fill="#0000ff"/>
<rect x="166.30" y="253" width="8.34" height="13" fill="#b24c4c"/>
<rect x="173.64" y="253" width="15.68" height="13" fill="#9999ff"/>
<rect x="188.32" y="253" width="8.34" height="13" fill="#b24c4c"/>
<rect x="195.66" y="253" width="8.34" height="13" fill="#9999ff"/>
<rect x="202.99" y="253" width="8.34" height="13" fill="#b24c4c"/>
<rect x="210.33" y="253" width="8.34" height="13" fill="#9999ff"/>
<rect x="217.67" y="253" width="23.02" height="13" fill="#0000ff"/>
<rect x="239.69" y="253" width="8.34" height="13" fill="#9999ff"/>
<rect x="247.03" y="253" width="8.34" height="13" fill="#0000ff"/>
<rect x="254.37" y="253" width="15.68" height="13" fill="#9999ff"/>
<rect x="269.05" y="253" width="8.34" height="13" fill="#cccccc"/>
<rect x="276.39" y="253" width="8.34" height="13" fill="#b24c4c"/>
<rect x="283.73" y="253" width="8.34" height="13" fill="#0000ff"/>
<rect x="291.07" y="253" width="15.68" height="13" fill="#cccccc"/>
<rect x="305.75" y="253" width="8.34" height="13" fill="#0000ff"/>
<rect x="313.09" y="253" width="8.34" height="13" fill="#cccccc"/>
<rect x="349.78" y="253" width="15.68" height="13" fill="#0000ff"/>
<rect x="364.46" y="253" width="8.34" height="13" fill="#cccccc"/>
<rect x="371.80" y="253" width="8.34" height="13" fill="#b24c4c"/>
<rect x="379.14" y="253" width="8.34" height="13" fill="#9999ff"/>
<rect x="386.48" y="253" width="8.34" height="13" fill="#b24c4c"/>
<rect x="393.82" y="253" width="15.68" height="13" fill="#0000ff"/>
<rect x="408.50" y="253" width="8.34" height="13" fill="#cccccc"/>
<rect x="415.84" y="253" width="8.34" height="13" fill="#9999ff"/>
<rect x="423.18" y="253" width="8.34" height="13" fill="#cccccc"/>
<rect x="430.52" y="253" width="23.02" height="13" fill="#b24c4c"/>
<rect x="452.54" y="253" width="8.34" height="13" fill="#cccccc"/>
<rect x="459.88" y="253" width="15.68" height="13" fill="#b24c4c"/>
<rect x="474.55" y="253" width="74.39" height="13" fill="#cccccc"/>
<rect x="547.95" y="253" width="8.34" height="13" fill="#0000ff"/>
<rect x="555.29" y="253" width="8.34" height="13" fill="#cccccc"/>
<rect x="562.63" y="253" width="8.34" height="13" fill="#b24c4c"/>
<rect x="569.97" y="253" width="8.34" height="13" fill="#0000ff"/>
<rect x="577.31" y="253" width="15.68" height="13" fill="#b24c4c"/>
<rect x="591.99" y="253" width="8.34" height="13" fill="#cccccc"/>
<rect x="599.32" y="253" width="8.34" height="13" fill="#b24c4c"/>
<rect x="606.66" y="253" width="8.34" height="13" fill="#cccccc"/>
<rect x="614.00" y="253" width="23.02" height="13" fill="#b24c4c"/>
<rect x="636.02" y="253" width="23.02" height="13" fill="#cccccc"/>
<rect x="658.04" y="253" width="8.34" height="13" fill="#b24c4c"/>
<rect x="665.38" y="253" width="30.36" height="13" fill="#cccccc"/>
<rect x="694.74" y="253" width="8.34" height="13" fill="#b24c4c"/>
<rect x="702.08" y="253" width="15.68" height="13" fill="#cccccc"/>
<rect x="716.76" y="253" width="8.34" height="13" fill="#9999ff"/>
<rect x="724.10" y="253" width="8.34" height="13" fill="#cccccc"/>
<rect x="731.43" y="253" width="15.68" height="13" fill="#0000ff"/>
<rect x="746.11" y="253" width="45.04" height="13" fill="#cccccc"/>
<rect x="790.15" y="253" width="15.68" height="13" fill="#9999ff"/>
<rect x="804.83" y="253" width="45.04" height="13" fill="#cccccc"/>
<rect x="848.87" y="253" width="15.68" height="13" fill="#b24c4c"/>
<rect x="863.54" y="253" width="37.70" height="13" fill="#cccccc"/>
<rect x="900.24" y="253" width="8.34" height="13" fill="#9999ff"/>
<rect x="907.58" y="253" width="8.34" height="13" fill="#0000ff"/>
<rect x="914.92" y="253" width="15.68" height="13" fill="#cccccc"/>
<rect x="225.01" y="280" width="8.34" height="13" fill="#b24c4c"/>
<rect x="269.05" y="308" width="8.34" height="13" fill="#9999ff"/>
<rect x="364.46" y="336" width="8.34" height="13" fill="#b24c4c"/>
<rect x="291.07" y="364" width="15.68" height="13" fill="#b24c4c"/>
<rect x="298.41" y="392" width="8.34" height="13" fill="#0000ff"/>
<rect x="195.66" y="419" width="8.34" height="13" fill="#b24c4c"/>
<rect x="202.99" y="419" width="8.34" height="13" fill="#9999ff"/>
<rect x="210.33" y="419" width="8.34" height="13" fill="#0000ff"/>
<rect x="217.67" y="419" width="8.34" height="13" fill="#9999ff"/>
<rect x="261.71" y="447" width="8.34" height="13" fill="#b24c4c"/>
<rect x="276.39" y="447" width="8.34" height="13" fill="#0000ff"/>
<rect x="283.73" y="447" width="8.34" height="13" fill="#b24c4c"/>
<rect x="291.07" y="447" width="8.34" height="13" fill="#0000ff"/>
<rect x="298.41" y="447" width="8.34" height="13" fill="#9999ff"/>
<rect x="305.75" y="447" width="8.34" height="13" fill="#b24c4c"/>
<rect x="357.12" y="475" width="8.34" height="13" fill="#b24c4c"/>
<rect x="650.70" y="503" width="8.34" height="13" fill="#b24c4c"/>
</g>
<g shape-rendering="crispEdges">
<rect x="130" y="30" width="1" height="501" fill="#000"/>
<rect x="130" y="530" width="801" height="1" fill="#000"/>
<rect x="130" y="530" width="1" height="6" fill="#000"/>
<rect x="137" y="530" width="1" height="3" fill="#000"/>
<rect x="144" y="530" width="1" height="3" fill="#000"/>
<rect x="152" y="530" width="1" height="3" fill="#000"/>
<rect x="159" y="530" width="1" height="3" fill="#000"/>
<rect x="166" y="530" width="1" height="3" fill="#000"/>
<rect x="174" y="530" width="1" height="3" fill="#000"/>
<rect x="181" y="530" width="1" height="3" fill="#000"/>
<rect x="188" y="530" width="1" height="3" fill="#000"/>
<rect x="196" y="530" width="1" height="3" fill="#000"/>
<rect x="203" y="530" width="1" height="6" fill="#000"/>
<rect x="210" y="530" width="1" height="3" fill="#000"/>
<rect x="218" y="530" width="1" height="3" fill="#000"/>
<rect x="225" y="530" width="1" height="3" fill="#000"/>
<rect x="232" y="530" width="1" height="3" fill="#000"/>
<rect x="240" y="530" width="1" height="3" fill="#000"/>
<rect x="247" y="530" width="1" height="3" fill="#000"/>
<rect x="254" y="530" width="1" height="3" fill="#000"/>
<rect x="262" y="530" width="1" height="3" fill="#000"/>
<rect x="269" y="530" width="1" height="3" fill="#000"/>
<rect x="276" y="530" width="1" height="6" fill="#000"/>
<rect x="284" y="530" width="1" height="3" fill="#000"/>
<rect x="291" y="530" width="1" height="3" fill="#000"/>
<rect x="298" y="530" width="1" height="3" fill="#000"/>
<rect x="306" y="530" width="1" height="3" fill="#000"/>
<rect x="313" y="530" width="1" height="3" fill="#000"/>
<rect x="320" y="530" width="1" height="3" fill="#000"/>
<rect x="328" y="530" width="1" height="3" fill="#000"/>
<rect x="335" y="530" width="1" height="3" fill="#000"/>
<rect x="342" y="530" width="1" height="3" fill="#000"/>
<rect x="350" y="530" width="1" height="6" fill="#000"/>
<rect x="357" y="530" width="1" height="3" fill="#000"/>
<rect x="364" y="530" width="1" height="3" fill="#000"/>
<rect x="372" y="530" width="1" height="3" fill="#000"/>
<rect x="379" y="530" width="1" height="3" fill="#000"/>
<rect x="386" y="530" width="1" height="3" fill="#000"/>
<rect x="394" y="530" width="1" height="3" fill="#000"/>
<rect x="401" y="530" width="1" height="3" fill="#000"/>
<rect x="408" y="530" width="1" height="3" fill="#000"/>
<rect x="416" y="530" width="1" height="3" fill="#000"/>
<rect x="423" y="530" width="1" height="6" fill="#000"/>
<rect x="430" y="530" width="1" height="3" fill="#000"/>
<rect x="438" y="530" width="1" height="3" fill="#000"/>
<rect x="445" y="530" width="1" height="3" fill="#000"/>
<rect x="452" y="530" width="1" height="3" fill="#000"/>
<rect x="460" y="530" width="1" height="3" fill="#000"/>
<rect x="467" y="530" width="1" height="3" fill="#000"/>
<rect x="474" y="530" width="1" height="3" fill="#000"/>
<rect x="482" y="530" width="1" height="3" fill="#000"/>
<rect x="489" y="530" width="1" height="3" fill="#000"/>
<rect x="496" y="530" width="1" height="6" fill="#000"/>
<rect x="504" y="530" width="1" height="3" fill="#000"/>
<rect x="511" y="530" width="1" height="3" fill="#000"/>
<rect x="518" y="530" width="1" height="3" fill="#000"/>
<rect x="526" y="530" width="1" height="3" fill="#000"/>
<rect x="533" y="530" width="1" height="3" fill="#000"/>
<rect x="541" y="530" width="1" height="3" fill="#000"/>
<rect x="548" y="530" width="1" height="3" fill="#000"/>
<rect x="555" y="530" width="1" height="3" fill="#000"/>
<rect x="563" y="530" width="1" height="3" fill="#000"/>
<rect x="570" y="530" width="1" height="6" fill="#000"/>
<rect x="577" y="530" width="1" height="3" fill="#000"/>
<rect x="585" y="530" width="1" height="3" fill="#000"/>
<rect x="592" y="530" width="1" height="3" fill="#000"/>
<rect x="599" y="530" width="1" height="3" fill="#000"/>
<rect x="607" y="530" width="1" height="3" fill="#000"/>
<rect x="614" y="530" width="1" height="3" fill="#000"/>
<rect x="621" y="530" width="1" height="3" fill="#000"/>
<rect x="629" y="530" width="1" height="3" fill="#000"/>
<rect x="636" y="530" width="1" height="3" fill="#000"/>
<rect x="643" y="530" width="1" height="6" fill="#000"/>
<rect x="651" y="530" width="1" height="3" fill="#000"/>
<rect x="658" y="530" width="1" height="3" fill="#000"/>
<rect x="665" y="530" width="1" height="3" fill="#000"/>
<rect x="673" y="530" width="1" height="3" fill="#000"/>
<rect x="680" y="530" width="1" height="3" fill="#000"/>
<rect x="687" y="530" width="1" height="3" fill="#000"/>
<rect x="695" y="530" width="1" height="3" fill="#000"/>
<rect x="702" y="530" width="1" height="3" fill="#000"/>
<rect x="709" y="530" width="1" height="3" fill="#000"/>
<rect x="717" y="530" width="1" height="6" fill="#000"/>
<rect x="724" y="530" width="1" height="3" fill="#000"/>
<rect x="731" y="530" width="1" height="3" fill="#000"/>
<rect x="739" y="530" width="1" height="3" fill="#000"/>
<rect x="746" y="530" width="1" height="3" fill="#000"/>
<rect x="753" y="530" width="1" height="3" fill="#000"/>
<rect x="761" y="530" width="1" height="3" fill="#000"/>
<rect x="768" y="530" width="1" height="3" fill="#000"/>
<rect x="775" y="530" width="1" height="3" fill="#000"/>
<rect x="783" y="530" width="1" height="3" fill="#000"/>
<rect x="790" y="530" width="1" height="6" fill="#000"/>
<rect x="797" y="530" width="1" height="3" fill="#000"/>
<rect x="805" y="530" width="1" height="3" fill="#000"/>
<rect x="812" y="530" width="1" height="3" fill="#000"/>
<rect x="819" y="530" width="1" height="3" fill="#000"/>
<rect x="827" y="530" width="1" height="3" fill="#000"/>
<rect x="834" y="530" width="1" height="3" fill="#000"/>
<rect x="841" y="530" width="1" height="3" fill="#000"/>
<rect x="849" y="530" width="1" height="3" fill="#000"/>
<rect x="856" y="530" width="1" height="3" fill="#000"/>
<rect x="863" y="530" width="1" height="6" fill="#000"/>
<rect x="871" y="530" width="1" height="3" fill="#000"/>
<rect x="878" y="530" width="1" height="3" fill="#000"/>
<rect x="885" y="530" width="1" height="3" fill="#000"/>
<rect x="893" y="530" width="1" height="3" fill="#000"/>
<rect x="900" y="530" width="1" height="3" fill="#000"/>
<rect x="907" y="530" width="1" height="3" fill="#000"/>
<rect x="915" y="530" width="1" height="3" fill="#000"/>
<rect x="922" y="530" width="1" height="3" fill="#000"/>
<rect x="930" y="530" width="1" height="3" fill="#000"/>
<rect x="937" y="530" width="1" height="6" fill="#000"/>
<rect x="48" y="562" width="13" height="13" fill="#0000ff"/>
<rect x="143" y="562" width="13" height="13" fill="#b24c4c"/>
<rect x="256" y="562" width="13" height="13" fill="#9999ff"/>
</g>
<g class="t">
<text x="124.6" y="40.80" text-anchor="end">Darwin</text>
<text x="124.6" y="68.58" text-anchor="end">Nightcliff</text>
<text x="124.6" y="96.36" text-anchor="end">Palmerston</text>
<text x="124.6" y="124.13" text-anchor="end">PINT</text>
<text x="124.6" y="151.91" text-anchor="end">Southern Districts</text>
<text x="124.6" y="179.69" text-anchor="end">St Mary&#x27;s</text>
<text x="124.6" y="207.47" text-anchor="end">Tiwi Bombers</text>
<text x="124.6" y="235.24" text-anchor="end">Wanderers</text>
<text x="124.6" y="263.02" text-anchor="end">Waratah</text>
<text x="124.6" y="290.80" text-anchor="end">Magpies/Wanderers</text>
<text x="124.6" y="318.58" text-anchor="end">Wallabies</text>
<text x="124.6" y="346.36" text-anchor="end">Navy</text>
<text x="124.6" y="374.13" text-anchor="end">Air Force</text>
<text x="124.6" y="401.91" text-anchor="end">Mobile Force</text>
<text x="124.6" y="429.69" text-anchor="end">Rovers/Magpies</text>
<text x="124.6" y="457.47" text-anchor="end">Garrison</text>
<text x="124.6" y="485.24" text-anchor="end">Winnellie</text>
<text x="124.6" y="513.02" text-anchor="end">Katherine</text>
<text x="130.50" y="549" text-anchor="middle" class="n">1916</text>
<text x="203.89" y="549" text-anchor="middle" class="n">1926</text>
<text x="277.29" y="549" text-anchor="middle" class="n">1936</text>
<text x="350.68" y="549" text-anchor="middle" class="n">1946</text>
<text x="424.08" y="549" text-anchor="middle" class="n">1956</text>
<text x="497.47" y="549" text-anchor="middle" class="n">1966</text>
<text x="570.87" y="549" text-anchor="middle" class="n">1976</text>
<text x="644.26" y="549" text-anchor="middle" class="n">1986</text>
<text x="717.66" y="549" text-anchor="middle" class="n">1996</text>
<text x="791.05" y="549" text-anchor="middle" class="n">2006</text>
<text x="864.44" y="549" text-anchor="middle" class="n">2016</text>
<text x="937.84" y="549" text-anchor="middle" class="n">2026</text>
<text class="n" x="70.5" y="574">Premier</text>
<text class="n" x="165.5" y="574">Last place</text>
<text class="n" x="278.5" y="574">Runner Up</text>
</g>
</svg>
</body></html>
